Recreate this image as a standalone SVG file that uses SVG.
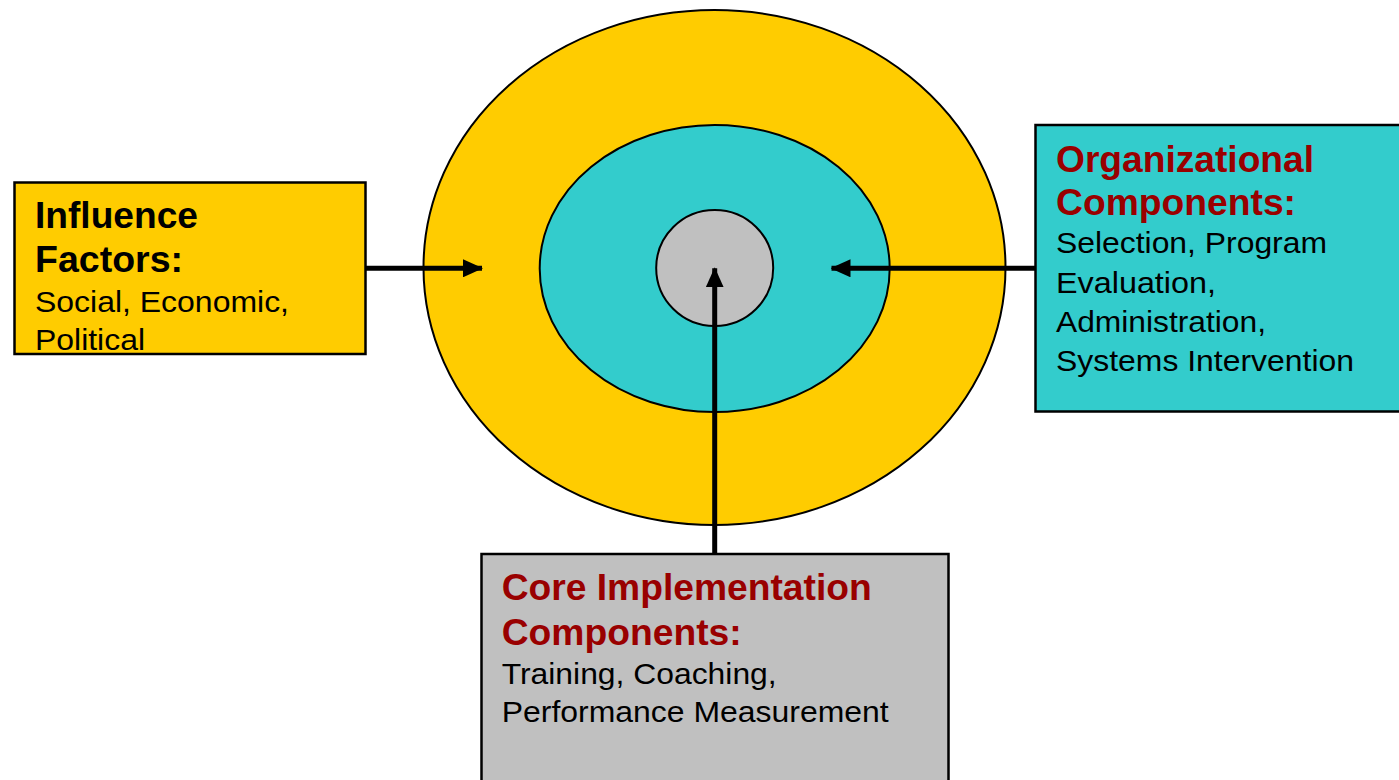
<svg xmlns="http://www.w3.org/2000/svg" width="1399" height="780" viewBox="0 0 1399 780">
  <defs>
    <style>
      .box { stroke: #000; stroke-width: 2.5; }
      .ring { stroke: #000; stroke-width: 2; }
      .title { font-family: "Liberation Sans", Arial, sans-serif; font-weight: bold; font-size: 36px; }
      .red { fill: #990000; }
      .blk { fill: #000; }
      .body { font-family: "Liberation Sans", Arial, sans-serif; font-size: 30px; fill: #000; }
      .conn { stroke: #000; stroke-width: 5; fill: none; marker-end: url(#arrow); }
    </style>
    <marker id="arrow" viewBox="0 0 20 18" refX="19" refY="9" markerWidth="20" markerHeight="18" markerUnits="userSpaceOnUse" orient="auto">
      <path d="M0,0 L20,9 L0,18 Z" fill="#000"/>
    </marker>
  </defs>
  <rect x="0" y="0" width="1399" height="780" fill="#fff"/>

  <g id="outer-ring">
    <ellipse class="ring" cx="714.5" cy="267.5" rx="291" ry="257.5" fill="#FFCC00"/>
  </g>
  <g id="middle-ring">
    <ellipse class="ring" cx="714.7" cy="268.5" rx="175" ry="143.5" fill="#33CCCC"/>
  </g>
  <g id="inner-core">
    <ellipse class="ring" cx="714.7" cy="268" rx="58.5" ry="58" fill="#C0C0C0"/>
  </g>

  <g id="influence-factors">
    <rect class="box" x="14.5" y="182.5" width="351" height="171.5" fill="#FFCC00"/>
    <text class="title blk" x="35" y="228.3" textLength="163" lengthAdjust="spacingAndGlyphs">Influence</text>
    <text class="title blk" x="35" y="271.7" textLength="148" lengthAdjust="spacingAndGlyphs">Factors:</text>
    <text class="body" x="35" y="311.7" textLength="254" lengthAdjust="spacingAndGlyphs">Social, Economic,</text>
    <text class="body" x="35" y="350" textLength="110" lengthAdjust="spacingAndGlyphs">Political</text>
  </g>

  <g id="organizational-components">
    <rect class="box" x="1035.5" y="125" width="400" height="286.5" fill="#33CCCC"/>
    <text class="title red" x="1056" y="171.7" textLength="258" lengthAdjust="spacingAndGlyphs">Organizational</text>
    <text class="title red" x="1056" y="215" textLength="240" lengthAdjust="spacingAndGlyphs">Components:</text>
    <text class="body" x="1056" y="253.3" textLength="271" lengthAdjust="spacingAndGlyphs">Selection, Program</text>
    <text class="body" x="1056" y="293.3" textLength="160" lengthAdjust="spacingAndGlyphs">Evaluation,</text>
    <text class="body" x="1056" y="332.3" textLength="210" lengthAdjust="spacingAndGlyphs">Administration,</text>
    <text class="body" x="1056" y="370.7" textLength="298" lengthAdjust="spacingAndGlyphs">Systems Intervention</text>
  </g>

  <g id="core-implementation-components">
    <rect class="box" x="481.5" y="554" width="467" height="240" fill="#C0C0C0"/>
    <text class="title red" x="501.7" y="600" textLength="370" lengthAdjust="spacingAndGlyphs">Core Implementation</text>
    <text class="title red" x="501.7" y="645" textLength="240" lengthAdjust="spacingAndGlyphs">Components:</text>
    <text class="body" x="501.7" y="684.3" textLength="275" lengthAdjust="spacingAndGlyphs">Training, Coaching,</text>
    <text class="body" x="501.7" y="721.7" textLength="387" lengthAdjust="spacingAndGlyphs">Performance Measurement</text>
  </g>

  <g id="connectors">
    <line class="conn" x1="365.5" y1="268.3" x2="482" y2="268.3"/>
    <line class="conn" x1="1035.5" y1="268.3" x2="831.5" y2="268.3"/>
    <line class="conn" x1="714.7" y1="553" x2="714.7" y2="268.3"/>
  </g>
</svg>
